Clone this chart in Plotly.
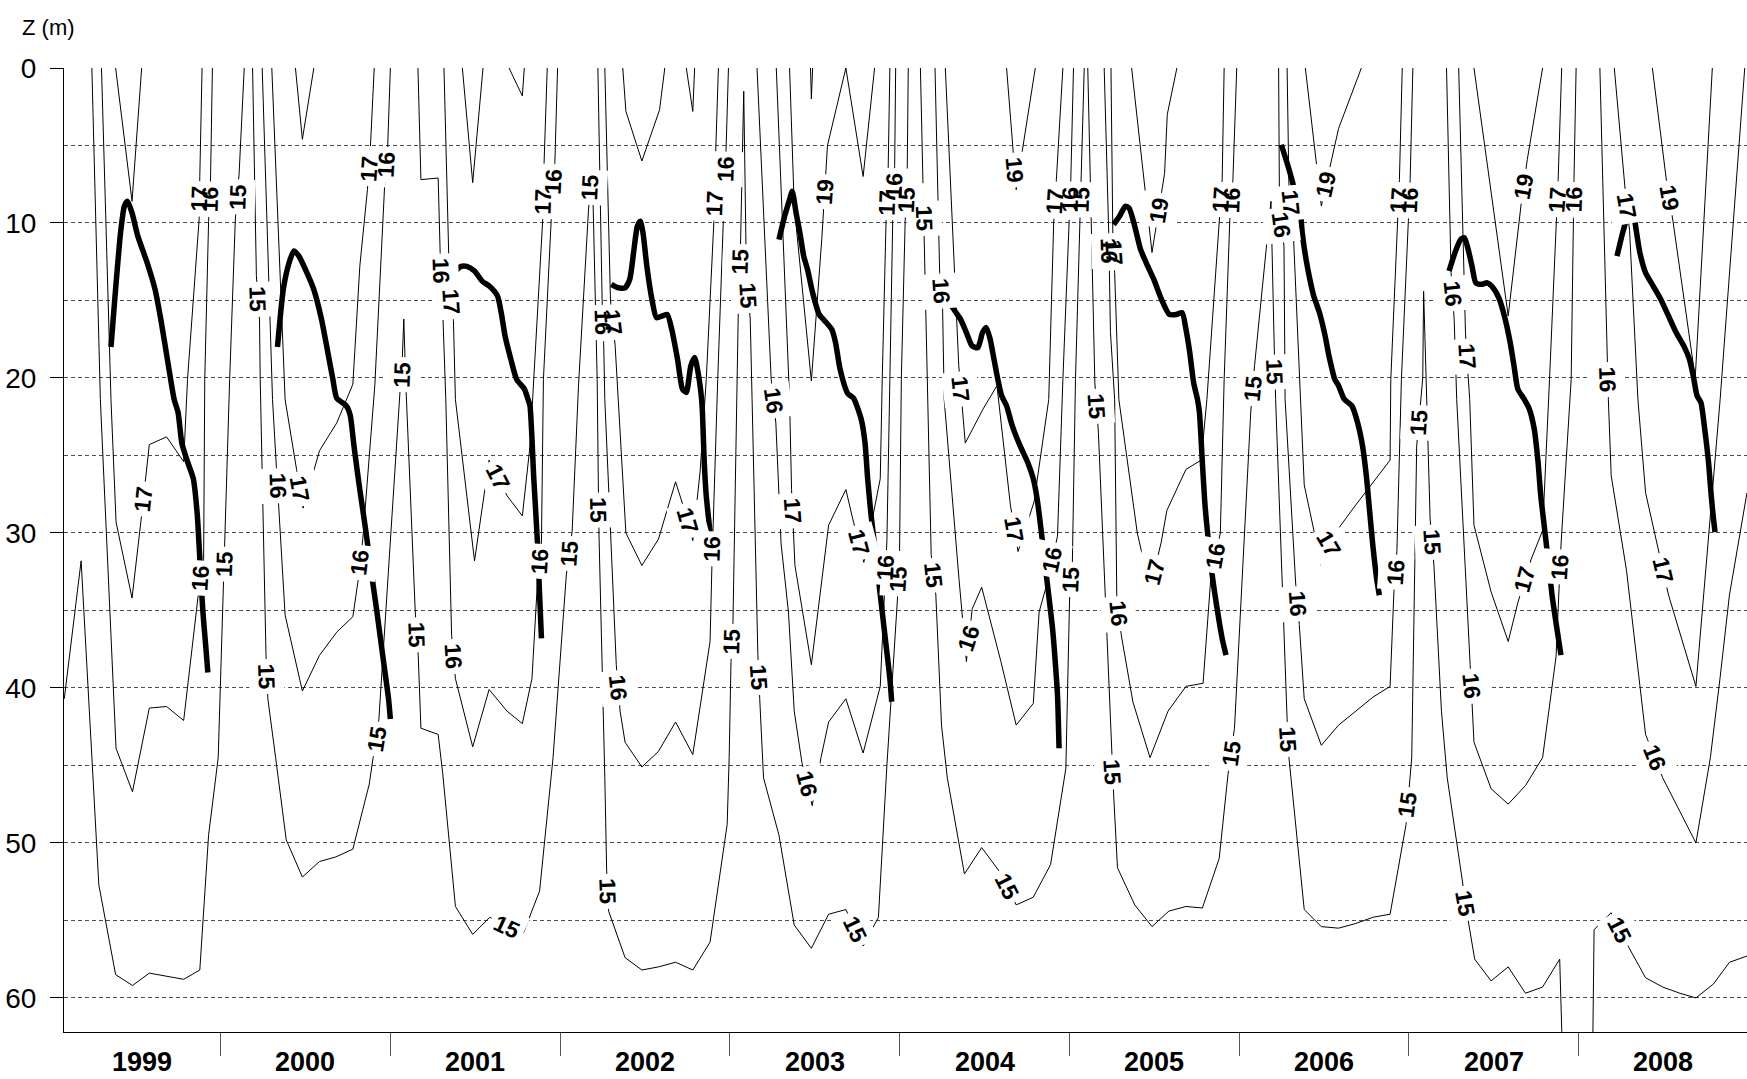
import plotly.graph_objects as go

# Time in months counted from 1 January 1999, depth in metres (positive downward).
YEARS = list(range(1999, 2009))
DEPTH_TICKS = [0, 10, 20, 30, 40, 50, 60]
DEPTH_MINOR = [5, 15, 25, 35, 45, 55]
X_RANGE = [0.93, 119.9]
Y_RANGE = [62.2, 0]

# Isotherm polylines (month, depth); None separates independent pieces.
iso15 = [
    (0.95, 40.7), (2.14, 31.8), (2.98, 45.8), (3.39, 52.7), (4.58, 58.5), (5.77, 59.2), (6.96, 58.4),
    (9.39, 58.8), (10.53, 58.2), (11.15, 49.5), (11.83, 44.5), (12.23, 33.6), (12.31, 30.0),
    (12.64, 20.1), (13.04, 9.8), (13.31, 6.8), (13.67, 0), None,
    (14.26, 0), (14.53, 13.4), (14.75, 16.2), (14.8, 20.1), (15.21, 37.9), (15.34, 40.7), (15.89, 44.5),
    (16.64, 49.8), (17.78, 52.2), (18.99, 51.2), (20.16, 50.9), (21.35, 50.4), (22.51, 46.2),
    (22.78, 44.5), (23.05, 43.2), (23.19, 42.0), (24.68, 20.9), (24.81, 19.5), (24.95, 16.2),
    (25.08, 20.1), (25.76, 35.1), (25.97, 37.9), (26.16, 42.6), (27.38, 43.0), (27.7, 45.5),
    (28.6, 54.1), (29.82, 55.9), (31.03, 54.8), (32.25, 55.4), (33.41, 55.8), (34.55, 53.1),
    (34.96, 49.5), (35.5, 44.5), (36.44, 32.7), (36.85, 29.9), (37.3, 20.5), (38.01, 9.1), (38.28, 6.7),
    (38.62, 20.1), (38.7, 26.7), (38.75, 30.2), (39.16, 45.8), (39.29, 51.8), (39.43, 54.4),
    (40.59, 57.4), (41.78, 58.2), (42.95, 58.0), (44.16, 57.7), (45.38, 58.2), (46.6, 56.4),
    (47.81, 48.8), (47.95, 44.5), (48.08, 38.3), (48.22, 35.7), (48.49, 20.1), (48.63, 13.9),
    (48.76, 11.1), (48.98, 1.5), (49.17, 13.4), (49.44, 16.2), (49.57, 21.4), (49.98, 37.9),
    (50.11, 40.7), (50.38, 45.8), (51.47, 49.5), (52.55, 55.3), (53.76, 56.8), (54.98, 54.6),
    (56.2, 54.3), (57.42, 56.65), (58.5, 54.8), (59.1, 45.0), (59.85, 34.2), (59.99, 31.7),
    (60.12, 20.1), (60.39, 9.9), (60.53, 7.2), (60.61, 0), None,
    (61.47, 0), (61.69, 8.9), (61.74, 10.6), (62.01, 21.4), (62.23, 31.4), (62.56, 34.0), (62.96, 42.4),
    (63.37, 45.8), (64.58, 52.0), (65.8, 50.3), (67.02, 51.8), (68.24, 54.0), (69.45, 53.5),
    (70.67, 51.4), (71.75, 45.2), (72.02, 34.0), (72.21, 31.9), (72.43, 20.1), (72.83, 7.2), (73.05, 0), None,
    (73.3, 0), (73.8, 20.3), (74.05, 23.5), (75.0, 44.1), (75.13, 46.9), (75.4, 51.6), (76.62, 54.0),
    (77.84, 55.4), (79.03, 54.4), (80.24, 54.1), (81.4, 54.2), (82.59, 51.0), (83.21, 45.6),
    (83.67, 42.6), (84.82, 22.2), (85.09, 19.2), (86.25, 8.6), (86.48, 18.0), (86.58, 21.4),
    (87.39, 42.0), (87.52, 44.5), (88.6, 54.3), (89.81, 55.4), (91.03, 55.5), (92.24, 55.2),
    (93.45, 54.8), (94.67, 54.6), (95.8, 48.8), (96.01, 46.2), (96.2, 44.5), (96.55, 24.4),
    (96.82, 21.4), (96.98, 20.0), (97.04, 14.4), (97.5, 29.1), (97.77, 32.1), (98.3, 41.5),
    (98.71, 45.8), (99.79, 52.7), (100.19, 55.0), (100.65, 57.5), (101.81, 58.9), (103.02, 58.0),
    (104.24, 59.7), (105.45, 59.3), (106.66, 57.5), (106.93, 66.0), None,
    (108.96, 66.0), (109.09, 55.6), (110.3, 54.5), (111.52, 56.7), (112.73, 58.7), (113.94, 59.3),
    (115.16, 59.7), (116.29, 60.0), (117.53, 59.1), (118.66, 57.7), (119.9, 57.3),
]

iso16 = [
    (2.9, 0), (3.5, 21.4), (4.61, 43.9), (5.77, 46.7), (6.96, 41.3), (8.18, 41.2), (9.39, 42.1),
    (10.42, 34.0), (10.8, 31.7), (10.88, 20.1), (11.15, 9.9), (11.29, 7.1), (11.42, 0), None,
    (14.94, 0), (15.67, 21.4), (15.94, 25.7), (16.1, 28.2), (16.56, 35.3), (17.78, 40.2), (18.99, 37.9),
    (20.21, 36.4), (21.35, 35.4), (21.7, 33.2), (22.05, 30.4), (22.9, 20.5), (23.59, 7.7),
    (23.81, 5.1), (24.0, 0), None,
    (25.95, 0), (26.16, 7.2), (27.38, 7.1), (27.52, 11.9), (27.65, 14.3), (27.92, 21.4), (28.33, 36.6),
    (28.6, 39.4), (29.82, 43.8), (30.98, 40.1), (32.25, 41.5), (33.33, 42.3), (34.01, 39.4),
    (34.41, 33.0), (34.68, 30.6), (34.82, 20.1), (35.44, 8.5), (35.63, 6.1), (35.82, 0), None,
    (38.67, 0), (38.97, 15.0), (39.08, 17.8), (39.16, 21.4), (39.97, 38.5), (40.24, 41.5), (40.59, 43.5),
    (41.78, 45.1), (42.95, 44.1), (44.16, 42.2), (45.38, 44.3), (46.6, 37.0), (46.73, 32.1),
    (46.8, 29.9), (47.14, 20.1), (47.62, 7.7), (47.73, 5.3), (47.9, 0), None,
    (49.92, 0), (50.92, 20.1), (51.25, 22.9), (51.62, 30.7), (52.14, 35.1), (52.55, 41.5), (53.09, 44.8),
    (53.82, 47.6), (54.44, 44.5), (54.98, 42.2), (56.2, 40.7), (57.42, 44.2), (58.63, 39.9),
    (58.9, 34.0), (59.1, 30.5), (59.31, 20.1), (59.53, 8.9), (59.65, 6.3), (59.72, 0), None,
    (62.5, 0), (62.83, 13.2), (63.04, 15.6), (63.15, 21.4), (64.2, 33.0), (64.72, 38.3), (65.13, 34.9),
    (65.8, 33.5), (67.16, 38.3), (68.24, 42.4), (69.45, 41.0), (69.86, 35.1), (70.5, 33.0),
    (71.16, 30.2), (71.54, 20.1), (71.97, 9.8), (72.1, 7.2), (72.29, 0), None,
    (74.46, 0), (74.78, 10.6), (74.9, 17.0), (75.2, 21.4), (75.35, 34.0), (75.67, 36.6), (76.49, 40.9),
    (77.7, 44.5), (78.97, 41.5), (80.24, 39.9), (81.45, 39.7), (81.99, 33.0), (82.67, 30.0),
    (82.94, 20.1), (83.34, 9.8), (83.56, 7.2), (83.83, 0), None,
    (86.79, 0), (86.85, 8.9), (87.17, 11.5), (87.25, 21.4), (88.0, 33.3), (88.25, 35.9), (88.6, 40.7),
    (89.81, 43.7), (91.03, 42.4), (92.24, 41.5), (93.45, 40.6), (94.67, 39.9), (94.94, 33.8),
    (95.15, 31.2), (95.47, 20.1), (95.96, 9.9), (96.09, 7.2), (96.28, 0), None,
    (98.66, 0), (98.98, 13.2), (99.2, 16.2), (99.38, 21.4), (100.33, 38.5), (100.6, 43.5), (101.81, 46.5),
    (103.02, 47.5), (104.24, 46.3), (105.45, 44.5), (106.4, 38.0), (106.6, 33.5), (106.75, 30.8),
    (107.47, 20.1), (107.61, 9.9), (107.67, 7.2), (107.82, 0), None,
    (109.5, 0), (110.04, 18.8), (110.1, 21.4), (110.3, 26.3), (111.38, 32.4), (112.73, 43.0),
    (113.94, 45.8), (116.29, 50.0), (117.31, 44.5), (117.99, 39.4), (118.66, 34.0), (119.9, 27.4),
]

iso17 = [
    (3.58, 0), (4.25, 21.4), (4.61, 29.3), (5.74, 34.2), (6.36, 29.3), (6.69, 26.3), (6.96, 24.3),
    (8.18, 23.8), (9.39, 25.4), (9.66, 20.1), (10.48, 9.8), (10.53, 7.0), (10.69, 0), None,
    (15.62, 0), (16.56, 21.4), (17.37, 25.9), (17.83, 28.4), (18.99, 24.7), (20.21, 22.9), (21.35, 20.4),
    (21.84, 12.8), (22.38, 7.85), (22.59, 5.1), (22.86, 0), None,
    (27.79, 0), (28.19, 14.3), (28.46, 16.3), (28.6, 21.4), (29.95, 31.8), (30.98, 25.3), (32.25, 27.6),
    (33.33, 28.9), (33.87, 24.4), (34.14, 20.1), (34.77, 9.8), (34.82, 7.4), (35.09, 0), None,
    (39.16, 0), (39.56, 15.0), (39.89, 17.9), (40.1, 21.4), (40.65, 30.0), (41.78, 32.1), (42.95, 30.4),
    (44.16, 26.7), (44.65, 28.1), (45.38, 30.5), (45.9, 26.0), (46.33, 20.1), (46.87, 9.9),
    (46.92, 7.6), (47.19, 0), None,
    (51.28, 0), (52.22, 21.4), (52.36, 27.2), (52.49, 30.0), (52.6, 32.1), (53.76, 38.5), (54.98, 29.5),
    (56.2, 27.2), (56.74, 29.3), (57.47, 31.9), (58.63, 26.5), (58.77, 20.1), (59.04, 9.9),
    (59.17, 7.6), (59.31, 0), None,
    (63.23, 0), (64.18, 19.2), (64.64, 24.2), (65.9, 22.0), (66.88, 20.5), (67.83, 28.2), (68.37, 31.2),
    (69.5, 28.0), (70.54, 21.4), (70.89, 10.0), (71.08, 7.2), (71.54, 0), None,
    (74.94, 0), (75.07, 10.7), (75.2, 13.2), (75.5, 21.4), (76.8, 30.0), (77.7, 33.6), (78.49, 30.6),
    (78.89, 28.55), (80.24, 25.9), (81.32, 25.3), (81.72, 21.4), (82.61, 9.8), (82.8, 7.2), (82.94, 0), None,
    (87.39, 0), (87.52, 7.6), (87.8, 10.0), (88.33, 21.4), (88.6, 26.9), (89.81, 32.1), (91.03, 29.7),
    (92.24, 28.2), (94.67, 25.3), (94.72, 20.1), (95.2, 9.8), (95.33, 7.2), (95.53, 0), None,
    (99.52, 0), (100.0, 17.1), (100.19, 19.9), (100.3, 21.4), (100.6, 29.5), (101.81, 33.8),
    (103.02, 37.0), (103.7, 34.5), (104.64, 31.7), (105.45, 29.85), (105.94, 20.1), (106.39, 9.9),
    (106.55, 7.2), (106.8, 0), None,
    (110.52, 0), (111.33, 8.3), (111.6, 10.5), (112.19, 21.4), (112.73, 27.4), (113.6, 31.0),
    (114.35, 34.0), (116.29, 39.9), (117.2, 30.0), (118.0, 21.4), (119.74, 0),
]

iso19 = [
    (4.58, 0), (5.74, 8.6), (6.42, 0), None,
    (17.29, 0), (17.78, 4.6), (18.59, 0), None,
    (29.09, 0), (29.82, 7.4), (30.55, 0), None,
    (32.39, 0), (33.33, 1.8), (33.47, 0), None,
    (40.43, 0), (40.65, 2.8), (41.78, 6.0), (43.03, 2.7), (43.4, 0), None,
    (44.92, 0), (45.38, 2.8), (45.51, 0), None,
    (52.22, 0), (52.55, 8.9), (53.76, 20.2), (54.5, 11.0), (54.9, 5.0), (56.2, 0), (57.42, 7.0), (58.23, 0), None,
    (53.7, 0), (53.76, 2.0), (53.85, 0), None,
    (67.56, 0), (68.24, 7.85), (69.59, 0), None,
    (76.4, 0), (77.84, 11.9), (78.73, 6.8), (78.92, 3.0), (79.6, 0), None,
    (88.68, 0), (89.81, 8.9), (90.49, 6.1), (91.03, 3.9), (92.64, 0), None,
    (100.6, 0), (103.02, 16.0), (103.97, 8.5), (104.37, 5.9), (105.45, 0), None,
    (113.21, 0), (114.21, 7.3), (114.67, 9.9), (116.24, 20.0), (117.45, 0),
]

# Thermocline depth, one stretch per year (month, depth)
thermocline = [
    (4.25, 18.0), (4.52, 14.9), (4.93, 10.6), (5.2, 8.9), (5.42, 8.6), (5.74, 9.35), (6.15, 10.85),
    (6.82, 12.6), (7.37, 14.3), (7.77, 16.2), (8.31, 19.2), (8.72, 21.4), (8.99, 22.2), (9.26, 24.2),
    (9.66, 25.4), (10.07, 26.5), (10.34, 28.7), (10.48, 30.8), (10.61, 33.0), (10.75, 35.1),
    (10.94, 37.2), (11.1, 39.0), None,
    (16.02, 18.0), (16.43, 14.3), (16.83, 12.6), (17.18, 11.8), (17.51, 12.1), (18.05, 13.1),
    (18.59, 14.3), (19.13, 16.2), (19.54, 18.15), (19.94, 20.1), (20.21, 21.3), (20.89, 21.8),
    (21.16, 22.4), (21.43, 24.4), (21.84, 27.2), (22.24, 29.7), (22.65, 32.5), (23.05, 35.1),
    (23.46, 37.9), (23.87, 40.7), (24.0, 42.0), None,
    (27.92, 14.1), (28.19, 13.6), (28.6, 13.1), (29.0, 12.8), (29.41, 12.8), (29.95, 13.1),
    (30.49, 13.75), (31.03, 14.1), (31.57, 14.7), (31.84, 15.8), (32.11, 17.3), (32.52, 18.8),
    (32.93, 20.1), (33.47, 20.7), (33.74, 21.4), (33.87, 21.8), (34.14, 26.5), (34.41, 30.8),
    (34.55, 34.0), (34.68, 36.8), None,
    (39.62, 13.96), (40.1, 14.18), (40.59, 14.18), (40.92, 13.64), (41.19, 11.93), (41.46, 10.21),
    (41.67, 9.89), (41.86, 10.64), (42.13, 12.78), (42.49, 14.93), (42.81, 16.11), (43.22, 16.0),
    (43.57, 15.9), (43.89, 16.86), (44.3, 18.79), (44.65, 20.72), (44.92, 20.93), (45.24, 19.22),
    (45.51, 18.68), (45.79, 19.86), (46.0, 21.36), (46.06, 22.2), (46.19, 25.44), (46.33, 27.6),
    (46.6, 29.95), None,
    (51.47, 11.07), (51.87, 9.57), (52.22, 8.49), (52.41, 7.96), (52.68, 9.35), (52.95, 10.64),
    (53.22, 12.14), (53.49, 13.0), (53.85, 14.5), (54.31, 15.9), (54.71, 16.32), (55.2, 16.86),
    (55.47, 17.72), (55.79, 19.43), (56.33, 21.0), (56.74, 21.3), (57.28, 22.65), (57.55, 24.16),
    (57.74, 26.5), (57.96, 28.66), (58.23, 30.8), (58.5, 32.95), (58.77, 35.1), (59.04, 37.24),
    (59.31, 39.39), (59.44, 40.89), None,
    (62.96, 14.82), (63.5, 15.14), (63.91, 15.68), (64.31, 16.22), (64.72, 17.07), (65.12, 17.93),
    (65.53, 18.04), (65.86, 17.07), (66.13, 16.75), (66.4, 17.5), (66.67, 18.79), (66.94, 20.08),
    (67.21, 21.15), (67.56, 21.8), (67.96, 23.08), (68.51, 24.37), (69.05, 25.44), (69.45, 26.51),
    (69.72, 27.8), (69.99, 29.73), (70.26, 31.88), (70.54, 34.02), (70.81, 36.17), (71.0, 38.31),
    (71.16, 40.46), (71.27, 43.89), None,
    (75.13, 10.1), (75.54, 9.57), (75.95, 8.92), (76.22, 9.03), (76.62, 10.21), (77.03, 11.71),
    (77.43, 12.57), (77.97, 13.64), (78.51, 14.93), (79.06, 15.9), (79.57, 15.9), (79.97, 15.79),
    (80.24, 16.86), (80.51, 18.36), (80.78, 20.29), (81.05, 21.36), (81.19, 22.2), (81.4, 25.44),
    (81.59, 28.23), (81.86, 30.8), (82.13, 32.95), (82.48, 35.1), (82.8, 36.81), (83.07, 37.88), None,
    (86.98, 4.95), (87.39, 6.13), (87.79, 7.42), (88.06, 8.49), (88.33, 9.35), (88.46, 10.64),
    (88.73, 12.35), (89.0, 13.64), (89.27, 14.71), (89.68, 15.79), (90.08, 17.29), (90.35, 18.58),
    (90.76, 20.08), (91.03, 20.5), (91.43, 21.37), (91.97, 21.8), (92.37, 22.87), (92.72, 24.37),
    (92.99, 26.3), (93.21, 28.45), (93.45, 30.8), (93.72, 32.95), (93.91, 34.02), None,
    (98.84, 13.1), (99.25, 11.93), (99.65, 11.07), (99.92, 10.96), (100.19, 11.71), (100.46, 12.78),
    (100.73, 13.86), (101.14, 13.96), (101.54, 13.86), (101.95, 14.18), (102.35, 14.82), (102.75, 16.0),
    (103.16, 17.72), (103.43, 19.22), (103.7, 20.72), (104.1, 21.3), (104.51, 22.0), (104.86, 23.3),
    (105.13, 25.44), (105.32, 27.59), (105.59, 29.73), (105.86, 31.88), (106.12, 34.02),
    (106.39, 35.74), (106.75, 37.88), None,
    (110.71, 12.14), (111.11, 10.64), (111.52, 9.35), (111.79, 9.03), (112.06, 10.42), (112.33, 11.93),
    (112.73, 13.21), (113.27, 14.07), (113.81, 14.93), (114.35, 16.0), (114.89, 17.07), (115.43, 17.93),
    (115.83, 18.79), (116.1, 19.86), (116.37, 21.15), (116.64, 21.58), (116.91, 23.3), (117.18, 25.44),
    (117.37, 27.59), (117.53, 29.09), (117.64, 29.95),
]

# Contour labels (month, depth, text angle in degrees)
lab15 = [
    (12.25, 32.0, -88), (13.18, 8.3, -88), (14.62, 14.9, 88), (15.24, 39.3, 88), (23.05, 43.3, -81),
    (24.81, 19.8, -88), (25.84, 36.6, 88), (32.25, 55.4, 25), (36.65, 31.3, -86), (38.12, 7.7, -87),
    (38.72, 28.5, 89), (39.36, 53.1, 88), (48.15, 37.0, -88), (48.7, 12.5, -88), (49.3, 14.7, 86),
    (50.03, 39.3, 86), (56.88, 55.6, 64), (59.92, 33.0, -86), (60.46, 8.5, -87), (61.71, 9.7, 88),
    (62.4, 32.7, 84), (67.56, 52.8, 63), (72.12, 33.0, -87), (72.8, 8.5, -88), (73.92, 21.8, 86),
    (75.05, 45.4, 86), (83.45, 44.2, -82), (84.96, 20.7, -84), (86.52, 19.6, 88), (87.43, 43.3, 86),
    (95.9, 47.5, -82), (96.69, 22.9, -86), (97.63, 30.6, 86), (99.95, 53.9, 80), (110.9, 55.6, 63),
]
lab16 = [
    (10.55, 32.9, -86), (11.22, 8.5, -88), (16.02, 27.0, 88), (21.86, 31.9, -83), (23.72, 6.2, -87),
    (27.58, 13.1, 88), (28.46, 38.0, 86), (34.54, 31.8, -86), (35.53, 7.3, -87), (39.02, 16.4, 88),
    (40.1, 40.0, 84), (46.76, 31.0, -88), (47.68, 6.5, -88), (51.08, 21.5, 82), (53.45, 46.2, 76),
    (59.0, 32.2, -86), (59.59, 7.6, -88), (62.93, 14.4, 86), (64.9, 36.8, -72), (70.8, 31.7, -78),
    (72.03, 8.5, -88), (74.8, 11.8, 88), (75.5, 35.2, 84), (82.33, 31.5, -80), (83.45, 8.5, -87),
    (87.0, 10.1, 82), (88.12, 34.6, 86), (95.05, 32.5, -86), (96.03, 8.5, -87), (99.08, 14.6, 84),
    (100.4, 39.9, 84), (106.67, 32.2, -86), (107.64, 8.5, -88), (110.07, 20.1, 88), (113.4, 44.5, 68),
]
lab17 = [
    (6.52, 27.8, -84), (10.5, 8.4, -88), (17.6, 27.15, 80), (22.48, 6.5, -86), (28.3, 15.1, 86),
    (31.6, 26.4, 63), (34.8, 8.6, -88), (39.72, 16.4, 83), (45.0, 29.25, 74), (46.9, 8.7, -88),
    (52.42, 28.6, 86), (57.1, 30.6, 75), (59.1, 8.7, -88), (64.32, 20.7, 84), (68.1, 29.8, 80),
    (70.98, 8.6, -86), (75.13, 11.9, 86), (78.0, 32.5, -76), (82.7, 8.5, -86), (87.66, 8.7, 84),
    (90.35, 30.7, 60), (95.26, 8.5, -86), (100.1, 18.6, 86), (104.2, 33.0, -75), (106.47, 8.5, -86),
    (111.4, 8.9, 80), (113.95, 32.4, 77),
]
lab19 = [
    (54.7, 8.0, -86), (68.1, 6.6, 85), (78.3, 9.2, -81), (90.14, 7.5, -77), (104.1, 7.6, -80),
    (114.4, 8.4, 80),
]

FONT = "Liberation Sans, Arial, Helvetica, sans-serif"
LABEL_SIZE = 23


def unzip(points):
    xs, ys = [], []
    for p in points:
        if p is None:
            xs.append(None)
            ys.append(None)
        else:
            xs.append(p[0])
            ys.append(p[1])
    return xs, ys


fig = go.Figure()

for name, pts in (("15", iso15), ("16", iso16), ("17", iso17), ("19", iso19)):
    xs, ys = unzip(pts)
    fig.add_trace(go.Scatter(
        x=xs, y=ys, mode="lines", name=name, showlegend=False,
        line=dict(color="black", width=1), connectgaps=False, hoverinfo="skip",
    ))

tx, ty = unzip(thermocline)
fig.add_trace(go.Scatter(
    x=tx, y=ty, mode="lines", showlegend=False, connectgaps=False,
    line=dict(color="black", width=5.5, shape="spline", smoothing=0.6), hoverinfo="skip",
))

label_sets = ((15, lab15), (16, lab16), (17, lab17), (19, lab19))
annotations = []
# first pass: white gaps cut into the isotherms under each label
for level, labels in label_sets:
    for m, d, ang in labels:
        annotations.append(dict(
            x=m, y=d, xref="x", yref="y", text=f"<b>{level}</b>", showarrow=False,
            textangle=ang, bgcolor="white", borderpad=4,
            font=dict(family=FONT, size=LABEL_SIZE, color="rgba(0,0,0,0)"),
        ))
# second pass: the label text itself
for level, labels in label_sets:
    for m, d, ang in labels:
        annotations.append(dict(
            x=m, y=d, xref="x", yref="y", text=f"<b>{level}</b>", showarrow=False,
            textangle=ang, borderpad=4,
            font=dict(family=FONT, size=LABEL_SIZE, color="black"),
        ))

# Year names centred on the visible part of each year
for i, yr in enumerate(YEARS):
    start = max(12 * i, X_RANGE[0])
    end = min(12 * (i + 1), X_RANGE[1])
    annotations.append(dict(
        x=(start + end) / 2, y=-0.031, xref="x", yref="paper", text=f"<b>{yr}</b>",
        showarrow=False, xanchor="center", yanchor="middle",
        font=dict(family=FONT, size=27, color="black"),
    ))

plot_w = 1747 - 64
plot_h = 1079 - 68 - 47
annotations.append(dict(
    x=(48 - 64) / plot_w, y=1 + (68 - 28) / plot_h, xref="paper", yref="paper",
    text="Z (m)", showarrow=False, xanchor="center", yanchor="middle",
    font=dict(family=FONT, size=22, color="black"),
))

fig.update_layout(
    width=1747, height=1079,
    margin=dict(l=64, r=0, t=68, b=47),
    paper_bgcolor="white", plot_bgcolor="white",
    annotations=annotations,
    showlegend=False,
)

fig.update_xaxes(
    range=X_RANGE, showgrid=False, zeroline=False,
    tickvals=[12 * k for k in range(1, len(YEARS))], ticks="outside", ticklen=23,
    tickcolor="#555555", tickwidth=1, showticklabels=False,
    showline=True, linecolor="black", linewidth=1,
)
fig.update_yaxes(
    range=Y_RANGE, zeroline=False,
    tickvals=DEPTH_TICKS, ticks="outside", ticklen=13, tickcolor="black", tickwidth=1,
    ticklabelstandoff=8,
    tickfont=dict(family=FONT, size=28, color="black"),
    showline=True, linecolor="black", linewidth=1,
    showgrid=True, gridcolor="#4d4d4d", gridwidth=1, griddash="4px,3px",
    minor=dict(tickvals=DEPTH_MINOR, showgrid=True, gridcolor="#4d4d4d", gridwidth=1,
               griddash="4px,3px", ticks=""),
)

fig.write_html("out.html")
